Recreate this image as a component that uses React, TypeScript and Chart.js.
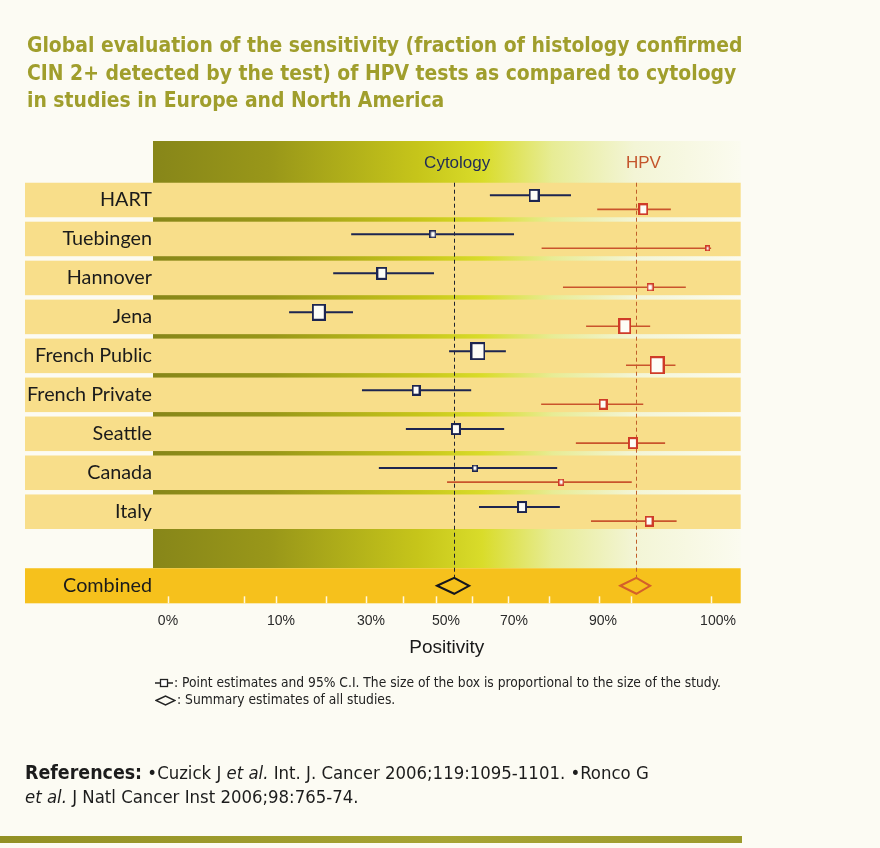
import React, { useEffect, useRef } from 'react';
import { Chart, registerables, LinearScale } from 'chart.js';

// ---------- data ----------
const studies = ['HART', 'Tuebingen', 'Hannover', 'Jena', 'French Public', 'French Private', 'Seattle', 'Canada', 'Italy'];
const combinedLabel = 'Combined';

// cytology sensitivity (%): point estimate and 95% CI
const cytoEst = [74.5, 46.5, 32.9, 18.4, 59.4, 42.0, 52.9, 58.5, 71.8];
const cytoLow = [62.9, 25.6, 21.6, 11.8, 50.9, 28.0, 39.3, 32.1, 59.7];
const cytoHigh = [82.8, 70.0, 46.8, 26.0, 67.6, 57.4, 67.1, 79.7, 80.3];
// HPV test sensitivity (%)
const hpvEst = [93.5, 99.1, 94.1, 91.9, 94.7, 90.0, 92.6, 80.6, 94.0];
const hpvLow = [88.7, 76.2, 81.0, 86.2, 92.0, 76.1, 83.9, 50.3, 87.3];
const hpvHigh = [95.9, 99.4, 97.2, 94.1, 96.3, 93.5, 95.4, 92.5, 96.4];
// relative study size (box size)
const cytoStudySize = [11, 7, 11, 14, 15, 9, 10, 6, 10];
const hpvStudySize = [10, 5, 7, 13, 15, 9, 10, 6, 9];
// summary estimates [low, est, high]
const combinedCyto = [47.6, 52.4, 56.8];
const combinedHpv = [91.5, 92.9, 94.1];

// axis ticks
const tickValues = [0, 10, 30, 50, 70, 90, 100];
const tickLabels = ['0%', '10%', '30%', '50%', '70%', '90%', '100%'];
const minorTickValues = [0, 6.7, 9.6, 20, 28.9, 38.5, 47.3, 57.6, 68.2, 77.9, 89.1, 92.4, 99.4];

// ---------- layout / style constants ----------
// The printed axis is not linear: fraction of the plot width at which each tick sits
const TICK_FRACTIONS = [0.0255, 0.2178, 0.3709, 0.4986, 0.6143, 0.7657, 0.9614];
const COMBINED_ROW = 9.9;
const Y_MIN = -1.514;
const Y_MAX = 10.35;
const BAND_HALF = 0.443;
const COMBINED_BAND_TOP = 9.45;
const CYTO_DY = -0.12;
const HPV_DY = 0.24;

const NARROW = '"DejaVu Sans Condensed", "Liberation Sans Narrow", sans-serif';
const LABEL_FONT = 'Lato, "DejaVu Sans Condensed", sans-serif';
const SANS = '"Liberation Sans", Arial, Helvetica, sans-serif';
const CYTO_COLOR = '#1d2550';
const HPV_COLOR = '#c9542c';
const HPV_BOX = '#cf3b28';
const ROW_BAND = '#f8de8a';
const COMBINED_BAND = '#f6c11c';

function pctToFraction(v: number): number {
  const tv = tickValues, tf = TICK_FRACTIONS, n = tv.length;
  if (v <= tv[0]) return tf[0] + (v - tv[0]) * (tf[1] - tf[0]) / (tv[1] - tv[0]);
  for (let i = 0; i < n - 1; i++) {
    if (v <= tv[i + 1]) {
      const t = (v - tv[i]) / (tv[i + 1] - tv[i]);
      return tf[i] + t * (tf[i + 1] - tf[i]);
    }
  }
  return tf[n - 1] + (v - tv[n - 1]) * (tf[n - 1] - tf[n - 2]) / (tv[n - 1] - tv[n - 2]);
}
function fractionToPct(f: number): number {
  const tv = tickValues, tf = TICK_FRACTIONS, n = tv.length;
  for (let i = 0; i < n - 1; i++) {
    if (f <= tf[i + 1] || i === n - 2) {
      const t = (f - tf[i]) / (tf[i + 1] - tf[i]);
      return tv[i] + t * (tv[i + 1] - tv[i]);
    }
  }
  return tv[n - 1];
}

class PiecewiseScale extends LinearScale {
  static id = 'piecewise';
  getPixelForValue(value: any) {
    if (value === null || value === undefined || isNaN(value)) return NaN;
    return (this as any).getPixelForDecimal(pctToFraction(+value));
  }
  getValueForPixel(pixel: number) {
    return fractionToPct((this as any).getDecimalForPixel(pixel));
  }
}

Chart.register(...registerables, PiecewiseScale as any);

function makeBox(size: number, stroke: string): HTMLCanvasElement {
  const w = Math.round(size);
  const h = Math.round(size * 1.2);
  const c = document.createElement('canvas');
  c.width = w;
  c.height = h;
  const g = c.getContext('2d')!;
  g.fillStyle = '#fdfdf7';
  g.fillRect(0, 0, w, h);
  const lw = size < 8 ? 1.5 : 2;
  g.strokeStyle = stroke;
  g.lineWidth = lw;
  g.strokeRect(lw / 2, lw / 2, w - lw, h - lw);
  return c;
}

const forestPlugin = {
  id: 'forestPlot',
  beforeDraw(chart: any) {
    const { ctx, chartArea: ca, scales } = chart;
    const x = scales.x, y = scales.y;
    const labelLeft = y.left;
    ctx.save();
    const g = ctx.createLinearGradient(ca.left, 0, ca.right, 0);
    g.addColorStop(0, '#878619');
    g.addColorStop(0.2, '#999719');
    g.addColorStop(0.45, '#c6c51a');
    g.addColorStop(0.56, '#d9dc2a');
    g.addColorStop(0.68, '#e7ec95');
    g.addColorStop(0.82, '#f3f5d6');
    g.addColorStop(1, '#fbfbef');
    const gradBottom = y.getPixelForValue(COMBINED_BAND_TOP);
    ctx.fillStyle = g;
    ctx.fillRect(ca.left, ca.top, ca.right - ca.left, gradBottom - ca.top);
    ctx.fillStyle = ROW_BAND;
    studies.forEach((_, i) => {
      const t = y.getPixelForValue(i - BAND_HALF);
      const b = y.getPixelForValue(i + BAND_HALF);
      ctx.fillRect(labelLeft, t, ca.right - labelLeft, b - t);
    });
    ctx.fillStyle = COMBINED_BAND;
    ctx.fillRect(labelLeft, gradBottom, ca.right - labelLeft, ca.bottom - gradBottom);
    // small white ticks along the bottom of the combined band
    ctx.strokeStyle = '#fff8e0';
    ctx.lineWidth = 1.5;
    minorTickValues.forEach((v) => {
      const px = Math.round(x.getPixelForValue(v)) + 0.5;
      ctx.beginPath();
      ctx.moveTo(px, ca.bottom);
      ctx.lineTo(px, ca.bottom - 7);
      ctx.stroke();
    });
    // column headers
    const headY = (ca.top + y.getPixelForValue(-BAND_HALF)) / 2 + 1;
    ctx.font = `17px ${SANS}`;
    ctx.textAlign = 'center';
    ctx.textBaseline = 'middle';
    ctx.fillStyle = '#1f2b58';
    ctx.fillText('Cytology', x.getPixelForValue(combinedCyto[1]) + 3, headY);
    ctx.fillStyle = '#c4562c';
    ctx.fillText('HPV', x.getPixelForValue(combinedHpv[1]) + 7, headY);
    ctx.restore();
  },
  beforeDatasetsDraw(chart: any) {
    const { ctx, scales } = chart;
    const x = scales.x, y = scales.y;
    ctx.save();
    const top = y.getPixelForValue(-BAND_HALF);
    const dTop = y.getPixelForValue(COMBINED_ROW) - 8;
    [[combinedCyto[1], '#1e2230'], [combinedHpv[1], '#c0602a']].forEach(([v, col]: any) => {
      const px = Math.round(x.getPixelForValue(v)) + 0.5;
      ctx.strokeStyle = col;
      ctx.lineWidth = 1;
      ctx.setLineDash([4, 3]);
      ctx.beginPath();
      ctx.moveTo(px, top);
      ctx.lineTo(px, dTop);
      ctx.stroke();
    });
    ctx.setLineDash([]);
    const drawCI = (lo: number[], hi: number[], dy: number, col: string, lw: number) => {
      ctx.strokeStyle = col;
      ctx.lineWidth = lw;
      studies.forEach((_, i) => {
        const py = y.getPixelForValue(i + dy);
        ctx.beginPath();
        ctx.moveTo(x.getPixelForValue(lo[i]), py);
        ctx.lineTo(x.getPixelForValue(hi[i]), py);
        ctx.stroke();
      });
    };
    drawCI(cytoLow, cytoHigh, CYTO_DY, CYTO_COLOR, 2);
    drawCI(hpvLow, hpvHigh, HPV_DY, HPV_COLOR, 1.6);
    ctx.restore();
  },
  afterDatasetsDraw(chart: any) {
    const { ctx, scales } = chart;
    const x = scales.x, y = scales.y;
    ctx.save();
    const cy = y.getPixelForValue(COMBINED_ROW);
    [[combinedCyto, '#15161c'], [combinedHpv, '#d4602a']].forEach(([vals, col]: any) => {
      const l = x.getPixelForValue(vals[0]);
      const m = x.getPixelForValue(vals[1]);
      const r = x.getPixelForValue(vals[2]);
      ctx.strokeStyle = col;
      ctx.lineWidth = 2;
      ctx.beginPath();
      ctx.moveTo(l, cy);
      ctx.lineTo(m, cy - 8);
      ctx.lineTo(r, cy);
      ctx.lineTo(m, cy + 8);
      ctx.closePath();
      ctx.stroke();
    });
    ctx.restore();
  },
};

export default function App() {
  const ref = useRef<HTMLCanvasElement>(null);
  useEffect(() => {
    document.body.style.margin = '0';
    document.body.style.background = '#fcfbf3';
    const cytoBoxes = cytoStudySize.map((s) => makeBox(s, CYTO_COLOR));
    const hpvBoxes = hpvStudySize.map((s) => makeBox(s, HPV_BOX));
    const rowTicks = [...studies.map((_, i) => i), COMBINED_ROW];
    const rowLabels = [...studies, combinedLabel];
    const chart = new Chart(ref.current!, {
      type: 'scatter',
      data: {
        datasets: [
          {
            label: 'Cytology',
            data: studies.map((_, i) => ({ x: cytoEst[i], y: i + CYTO_DY })),
            pointStyle: cytoBoxes as any,
            pointRadius: 6,
          },
          {
            label: 'HPV',
            data: studies.map((_, i) => ({ x: hpvEst[i], y: i + HPV_DY })),
            pointStyle: hpvBoxes as any,
            pointRadius: 6,
          },
        ],
      },
      options: {
        responsive: false,
        animation: false,
        events: [],
        layout: { padding: { left: 25, top: 141, right: 139.3, bottom: 184.7 } },
        plugins: { legend: { display: false }, tooltip: { enabled: false }, title: { display: false } },
        scales: {
          x: {
            type: 'piecewise' as any,
            min: 0,
            max: 100,
            grid: { display: false, drawTicks: false },
            border: { display: false },
            afterBuildTicks: (s: any) => { s.ticks = tickValues.map((v) => ({ value: v })); },
            afterFit: (s: any) => { s.height = 60; },
            ticks: {
              autoSkip: false,
              maxRotation: 0,
              padding: 9,
              color: '#2a2a2a',
              font: { family: SANS, size: 14 },
              callback: (_v: any, i: number) => tickLabels[i],
            },
            title: {
              display: true,
              text: 'Positivity',
              color: '#1a1a1a',
              font: { family: SANS, size: 19 },
              padding: { top: 0, bottom: 4 },
            },
          } as any,
          y: {
            type: 'linear',
            reverse: true,
            min: Y_MIN,
            max: Y_MAX,
            bounds: 'data',
            grid: { display: false, drawTicks: false },
            border: { display: false },
            afterBuildTicks: (s: any) => { s.ticks = rowTicks.map((v) => ({ value: v })); },
            afterFit: (s: any) => { s.width = 128; },
            ticks: {
              autoSkip: false,
              padding: 1,
              color: '#1b1b1b',
              font: { family: LABEL_FONT, size: 19.8 },
              callback: (_v: any, i: number) => rowLabels[i],
            },
          } as any,
        },
      },
      plugins: [forestPlugin],
    });
    return () => chart.destroy();
  }, []);

  return (
    <div style={{ position: 'absolute', left: 0, top: 0, width: 880, height: 848, background: '#fcfbf3', overflow: 'hidden', fontFamily: NARROW }}>
      <canvas ref={ref} width={880} height={848} style={{ position: 'absolute', left: 0, top: 0 }} />
      <div style={{ position: 'absolute', left: 27, top: 31, width: 800, fontWeight: 'bold', fontSize: 22, lineHeight: '27.5px', color: '#a09e2c', whiteSpace: 'nowrap', transform: 'scaleX(0.95)', transformOrigin: 'left top' }}>
        Global evaluation of the sensitivity (fraction of histology confirmed<br />
        CIN 2+ detected by the test) of HPV tests as compared to cytology<br />
        in studies in Europe and North America
      </div>
      <div style={{ position: 'absolute', left: 155, top: 674, fontSize: 13.7, lineHeight: '17px', color: '#222', whiteSpace: 'nowrap' }}>
        <div>
          <svg width="18" height="10" style={{ verticalAlign: 'middle', marginRight: 1 }}>
            <line x1="0" y1="5" x2="18" y2="5" stroke="#222" strokeWidth="1.5" />
            <rect x="5.5" y="1.5" width="7" height="7" fill="#fff" stroke="#222" strokeWidth="1.3" />
          </svg>
          : Point estimates and 95% C.I. The size of the box is proportional to the size of the study.
        </div>
        <div>
          <svg width="21" height="11" style={{ verticalAlign: 'middle', marginRight: 1 }}>
            <polygon points="1,5.5 10.5,1 20,5.5 10.5,10" fill="none" stroke="#222" strokeWidth="1.5" />
          </svg>
          : Summary estimates of all studies.
        </div>
      </div>
      <div style={{ position: 'absolute', left: 25, top: 761, fontSize: 18.4, lineHeight: '24px', color: '#1c1c1c', whiteSpace: 'nowrap' }}>
        <b style={{ fontSize: 19.4 }}>References:</b> {'\u2022'}Cuzick J <i>et al.</i> Int. J. Cancer 2006;119:1095-1101. {'\u2022'}Ronco G<br />
        <i>et al.</i> J Natl Cancer Inst 2006;98:765-74.
      </div>
      <div style={{ position: 'absolute', left: 0, top: 836, width: 742, height: 7, background: 'linear-gradient(to right, #929024, #a6a433 60%, #9c9a2c)' }} />
    </div>
  );
}
